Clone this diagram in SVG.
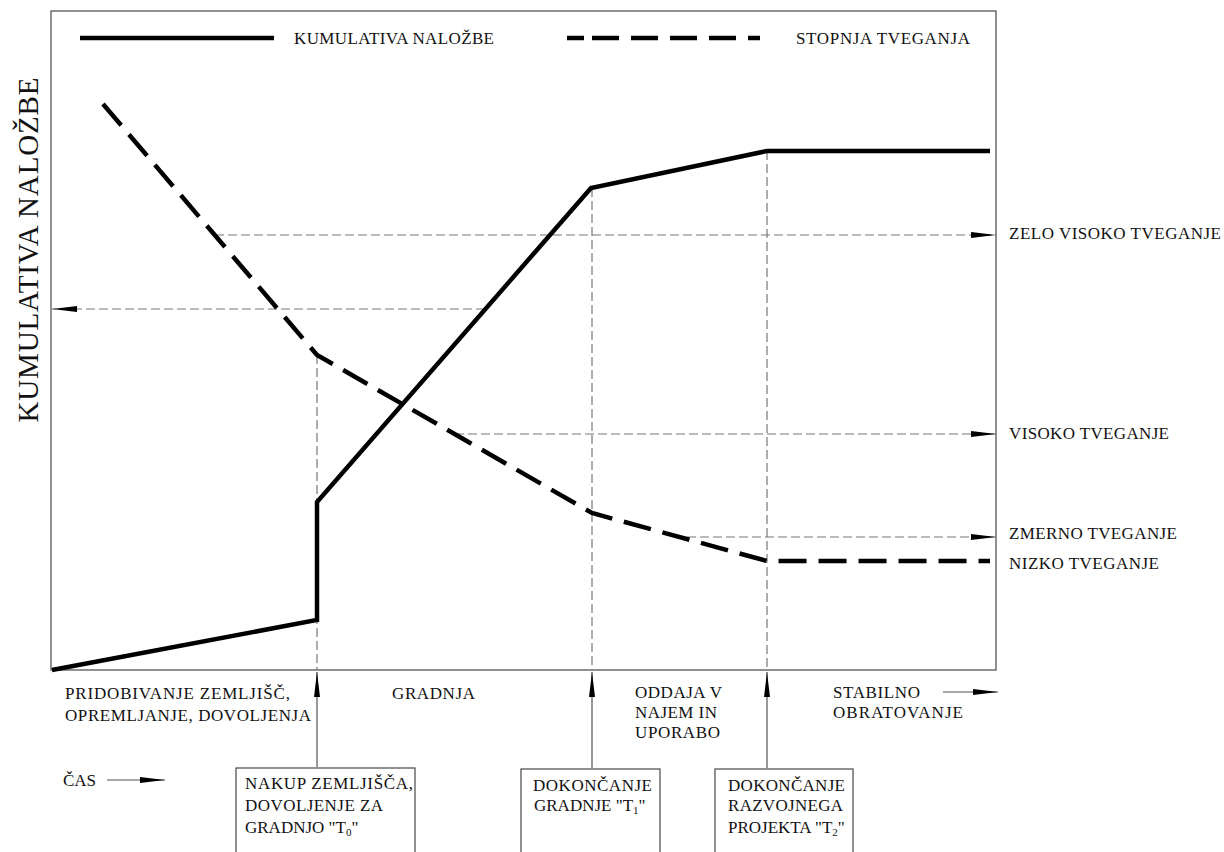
<svg xmlns="http://www.w3.org/2000/svg" width="1224" height="852" viewBox="0 0 1224 852">
<defs>
<style>
text{font-family:"Liberation Serif","Times New Roman",serif;fill:#111;}
.t{font-size:17px;}
.lg{font-size:17px;}
.ax{font-size:29px;}
.frame{fill:none;stroke:#555;stroke-width:1.3;}
.box{fill:#fff;stroke:#555;stroke-width:1.3;}
.inv{fill:none;stroke:#000;stroke-width:4.5;stroke-linejoin:miter;}
.risk{fill:none;stroke:#000;stroke-width:4.5;stroke-dasharray:28 12;}
.guide{fill:none;stroke:#777;stroke-width:1.2;stroke-dasharray:9 4;}
.lead{fill:none;stroke:#555;stroke-width:1.2;}
</style>
<marker id="ah" viewBox="0 0 25 8" refX="25" refY="4" markerWidth="25" markerHeight="8" markerUnits="userSpaceOnUse" orient="auto">
<path d="M0,1 L25,4 L0,7 Z" fill="#000"/>
</marker>
</defs>
<rect class="frame" x="51" y="11" width="945" height="659"/>
<g id="legend">
<line x1="80" y1="38" x2="274" y2="38" stroke="#000" stroke-width="4.5"/>
<text class="lg" x="294" y="44" textLength="200">KUMULATIVA NALOŽBE</text>
<line x1="567" y1="38" x2="760" y2="38" stroke="#000" stroke-width="4.5" stroke-dasharray="17 8 27 12 27 12 27 12 27 12 12"/>
<text class="lg" x="796" y="44" textLength="174">STOPNJA TVEGANJA</text>
</g>
<text class="ax" x="38" y="250" text-anchor="middle" textLength="345" transform="rotate(-90 38 250)">KUMULATIVA NALOŽBE</text>
<g id="connectors">
<line class="guide" x1="215" y1="235" x2="996" y2="235" marker-end="url(#ah)"/>
<line class="guide" x1="485" y1="309" x2="52" y2="309" marker-end="url(#ah)"/>
<line class="guide" x1="455" y1="434" x2="996" y2="434" marker-end="url(#ah)"/>
<line class="guide" x1="687" y1="537" x2="996" y2="537" marker-end="url(#ah)"/>
<line class="guide" x1="317" y1="355" x2="317" y2="670"/>
<line class="guide" x1="592" y1="188" x2="592" y2="670"/>
<line class="guide" x1="767" y1="151" x2="767" y2="670"/>
<line class="lead" x1="317" y1="767" x2="317" y2="672" marker-end="url(#ah)"/>
<line class="lead" x1="592" y1="768" x2="592" y2="672" marker-end="url(#ah)"/>
<line class="lead" x1="767" y1="768" x2="767" y2="672" marker-end="url(#ah)"/>
<line class="lead" x1="107" y1="780" x2="165" y2="780" marker-end="url(#ah)"/>
<line class="lead" x1="943" y1="692" x2="998" y2="692" marker-end="url(#ah)"/>
</g>
<g id="investment">
<polyline class="inv" points="52,670 317,620 317,502 591,188 767,151 990,151"/>
</g>
<g id="risk">
<polyline class="risk" points="103,104 317,355 592,513 767,561 990,561"/>
</g>
<g id="labels-right">
<text class="t" x="1009" y="239" textLength="212">ZELO VISOKO TVEGANJE</text>
<text class="t" x="1009" y="439" textLength="160">VISOKO TVEGANJE</text>
<text class="t" x="1009" y="539" textLength="168">ZMERNO TVEGANJE</text>
<text class="t" x="1009" y="569" textLength="150">NIZKO TVEGANJE</text>
</g>
<g id="phases">
<text class="t" x="65" y="699" textLength="225">PRIDOBIVANJE ZEMLJIŠČ,</text>
<text class="t" x="65" y="721" textLength="246">OPREMLJANJE, DOVOLJENJA</text>
<text class="t" x="392" y="699" textLength="83">GRADNJA</text>
<text class="t" x="635" y="698" textLength="87">ODDAJA V</text>
<text class="t" x="635" y="718" textLength="82">NAJEM IN</text>
<text class="t" x="635" y="738" textLength="85">UPORABO</text>
<text class="t" x="833" y="698" textLength="87">STABILNO</text>
<text class="t" x="833" y="718" textLength="130">OBRATOVANJE</text>
<text class="t" x="63" y="786" textLength="33">ČAS</text>
</g>
<g id="box-t0">
<rect class="box" x="236" y="768" width="179" height="100"/>
<text class="t" x="245" y="789" textLength="168">NAKUP ZEMLJIŠČA,</text>
<text class="t" x="245" y="811" textLength="138">DOVOLJENJE ZA</text>
<text class="t" x="245" y="833">GRADNJO "T<tspan font-size="11" dy="3">0</tspan><tspan dy="-3">"</tspan></text>
</g>
<g id="box-t1">
<rect class="box" x="521" y="769" width="139" height="100"/>
<text class="t" x="533" y="791" textLength="119">DOKONČANJE</text>
<text class="t" x="534" y="811">GRADNJE "T<tspan font-size="11" dy="3">1</tspan><tspan dy="-3">"</tspan></text>
</g>
<g id="box-t2">
<rect class="box" x="715" y="769" width="138" height="100"/>
<text class="t" x="728" y="791" textLength="117">DOKONČANJE</text>
<text class="t" x="728" y="811" textLength="115">RAZVOJNEGA</text>
<text class="t" x="728" y="833">PROJEKTA "T<tspan font-size="11" dy="3">2</tspan><tspan dy="-3">"</tspan></text>
</g>
</svg>
